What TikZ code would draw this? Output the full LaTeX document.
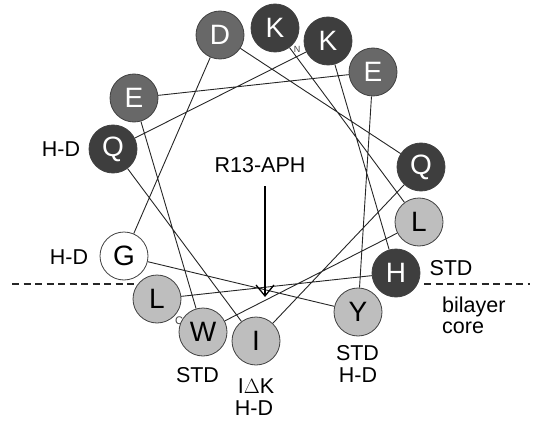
\documentclass[tikz,border=0pt]{standalone}
\usepackage{fontspec}
\setmainfont{Liberation Sans}
\usetikzlibrary{arrows.meta,backgrounds}
\definecolor{dk}{HTML}{3E3E3E}
\definecolor{md}{HTML}{686868}
\definecolor{lt}{HTML}{BEBEBE}
\begin{document}
\begin{tikzpicture}[x=1pt,y=-1pt,
  res/.style={circle, draw=black!75, line width=0.8pt, minimum size=48pt, inner sep=0pt, font=\fontsize{28}{28}\selectfont},
  darkres/.style={res, fill=dk, text=white},
  medres/.style={res, fill=md, text=white},
  lightres/.style={res, fill=lt, text=black},
  whiteres/.style={res, fill=white, text=black},
  lbl/.style={font=\fontsize{21.5}{21.5}\selectfont, inner sep=0pt, anchor=base},
  tiny/.style={font=\fontsize{11}{11}\selectfont, inner sep=0pt, text=black!75},
  link/.style={draw=black!85, line width=0.9pt},
  memb/.style={draw=black!85, line width=1.6pt, dash pattern=on 7pt off 4.5pt}]
\useasboundingbox (0,0) rectangle (535,425);

% residues
\node[darkres]  (K1)  at (275,28)  {K};
\node[lightres] (L2)  at (419,222) {L};
\node[lightres] (W3)  at (203,332) {W};
\node[medres]   (E4)  at (134,98)  {E};
\node[medres]   (E5)  at (373,72)  {E};
\node[lightres] (Y6)  at (358,312) {Y};
\node[whiteres] (G7)  at (124,256) {G};
\node[medres]   (D8)  at (220,35)  {D};
\node[darkres]  (Q9)  at (421,167) {Q};
\node[lightres] (I10) at (256,341) {I};
\node[darkres]  (Q11) at (113,149) {Q};
\node[darkres]  (K12) at (328,41)  {K};
\node[darkres]  (H13) at (396,273) {H};
\node[lightres] (L14) at (157,299) {L};

\begin{scope}[on background layer]
  \draw[link] (K1) -- (L2) -- (W3) -- (E4) -- (E5) -- (Y6) -- (G7) -- (D8)
    -- (Q9) -- (I10) -- (Q11) -- (K12) -- (H13) -- (L14);
  \node[tiny] (Cterm) at (179,321) {C};
  \coordinate (m1) at (12,284);
  \coordinate (m2) at (136,284);
  \coordinate (m3) at (424,284);
  \coordinate (m4) at (530,284);
  \draw[memb] (m1) -- (m2);
  \draw[memb] (m3) -- (m4);
\end{scope}
\node[tiny, font=\fontsize{9}{9}\selectfont] (Nterm) at (297,49) {N};

% arrow
\node[lbl] (aph) at (260,172) {R13-APH};
\coordinate (tip) at (265,297);
\draw[line width=1.3pt, -{Straight Barb[length=11pt,width=18pt,line width=1.3pt]}] (265,186) -- (tip);

% labels
\node[lbl] (hdQ) at (61,156) {H-D};
\node[lbl] (hdG) at (69,264) {H-D};
\node[lbl] (stdH) at (451,275) {STD};
\node[lbl, anchor=base west] (bil) at (442,312) {bilayer};
\node[lbl, anchor=base west] (cor) at (442,333) {core};
\node[lbl] (stdW) at (197.5,382) {STD};
\node[lbl] (idk) at (256,393) {I$\Delta$K};
\node[lbl] (hdI) at (254,415) {H-D};
\node[lbl] (stdY) at (357.5,360) {STD};
\node[lbl] (hdY) at (358,382) {H-D};
\end{tikzpicture}
\end{document}
